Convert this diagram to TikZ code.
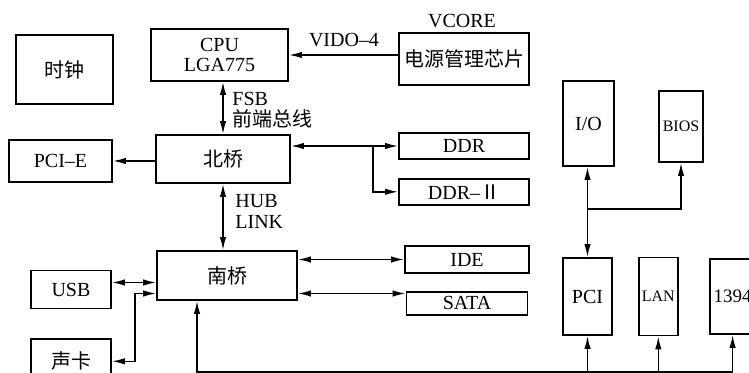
\documentclass[tikz,border=0pt]{standalone}
\usepackage{fontspec}
\setmainfont{Liberation Serif}
\newfontfamily\cjk{Noto Sans CJK SC}
\usetikzlibrary{arrows.meta,positioning}

\begin{document}
\begin{tikzpicture}[
		x=0.5pt, y=-0.5pt,
		block/.style={rectangle, draw, line width=0.9pt, inner sep=0pt, align=center, font=\fontsize{10}{10}\selectfont},
		small/.style={font=\fontsize{8}{9}\selectfont},
		arrow/.style={-{Latex[length=6.5pt,width=3.2pt]}, line width=0.75pt},
		dblarrow/.style={{Latex[length=6.5pt,width=3.2pt]}-{Latex[length=6.5pt,width=3.2pt]}, line width=0.75pt},
		note/.style={font=\fontsize{10}{10.5}\selectfont, inner sep=0pt, align=left}
		]
		\useasboundingbox (0,0) rectangle (749,373);
		\clip (0,0) rectangle (749,373);

		% Clock
		\node[block, minimum width=48.5pt, minimum height=34.5pt] (clock) at (64.5,69.5) {\cjk 时钟};

		% CPU and power chip
		\node[block, minimum width=68.5pt, minimum height=26pt] (cpu) at (219.5,55) {CPU\\LGA775};
		\node[block, minimum width=65pt, minimum height=26pt] (power) at (464,59) {\cjk 电源管理芯片};

		% North bridge
		\node[block, minimum width=67pt, minimum height=24pt] (nb) at (223,159) {\cjk 北桥};
		\node[block, minimum width=51.5pt, minimum height=21pt] (pcie) at (60.5,161) {PCI--E};

		% Memory
		\node[block, minimum width=65pt, minimum height=13pt] (ddr) at (464,146) {DDR};
		\node[block, minimum width=65pt, minimum height=13pt, below=9pt of ddr] (ddr2) {DDR--{\cjk Ⅱ}};

		% South bridge
		\node[block, minimum width=70pt, minimum height=24.5pt] (sb) at (227,275.5) {\cjk 南桥};
		\node[block, minimum width=40pt, minimum height=19pt] (usb) at (71,289.5) {USB};
		\node[block, minimum width=40pt, minimum height=22pt, below=14.5pt of usb] (sound) {\cjk 声卡};

		% Disks
		\node[block, minimum width=62pt, minimum height=13.5pt] (ide) at (467,259.5) {IDE};
		\node[block, minimum width=60.5pt, minimum height=11.5pt, below=8.5pt of ide] (sata) {SATA};

		% I/O and BIOS
		\node[block, minimum width=25.5pt, minimum height=42.5pt] (io) at (588.5,123.5) {I/O};
		\node[block, small, minimum width=22pt, minimum height=35.5pt] (bios) at (681,126.5) {BIOS};

		% PCI, LAN, 1394
		\node[block, minimum width=24.5pt, minimum height=38.5pt] (pci) at (587.5,296.5) {PCI};
		\node[block, small, minimum width=19.5pt, minimum height=39pt, right=12.5pt of pci] (lan) {LAN};
		\node[block, minimum width=23pt, minimum height=37.5pt, right=15pt of lan, font=\fontsize{9.5}{10}\selectfont] (f1394) {1394};

		% Labels
		\node[note] at (462,21) {VCORE};
		\node[note] at (344,40) {VIDO--4};
		\node[note, anchor=west] at (232,110) {FSB\\{\cjk 前端总线}};
		\node[note, anchor=west] at (235,211.5) {HUB\\LINK};

		% Power to CPU
		\draw[arrow] (power.west |- cpu.east) -- (cpu.east);

		% FSB and hub link
		\draw[dblarrow] (nb.north) -- (nb.north |- cpu.south);
		\draw[dblarrow] (nb.south) -- (nb.south |- sb.north);

		% North bridge links
		\draw[arrow] (pcie.east -| nb.west) -- (pcie.east);
		\draw[dblarrow] (nb.east |- ddr.west) -- (ddr.west);
		\coordinate (dj) at (373,146);
		\draw[arrow] (dj) |- (ddr2.west);

		% South bridge links
		\draw[dblarrow] ([yshift=3.5pt]usb.east) -- ([yshift=3.5pt]usb.east -| sb.west);
		\draw[dblarrow] ([yshift=-9pt]sb.west) -- ++(-10.5pt,0) |- (sound.east);
		\draw[dblarrow] (sb.east |- ide.west) -- (ide.west);
		\draw[dblarrow] ([yshift=-9pt]sb.east) -- ([yshift=-9pt]sb.east -| sata.west);

		% PCI to I/O and BIOS
		\coordinate (pj) at (587,209);
		\draw[dblarrow] (pci.north) -- (pci.north |- io.south);
		\draw[arrow] (pci.north |- pj) -| (bios.south);

		% Bus
		\coordinate (bus) at (197,372);
		\draw[arrow] (bus -| f1394.south) -- (bus) -- (bus |- sb.south);
		\draw[arrow] (bus -| pci.south) -- (pci.south);
		\draw[arrow] (bus -| lan.south) -- (lan.south);
		\draw[arrow] (bus -| f1394.south) -- (f1394.south);

	\end{tikzpicture}
\end{document}
